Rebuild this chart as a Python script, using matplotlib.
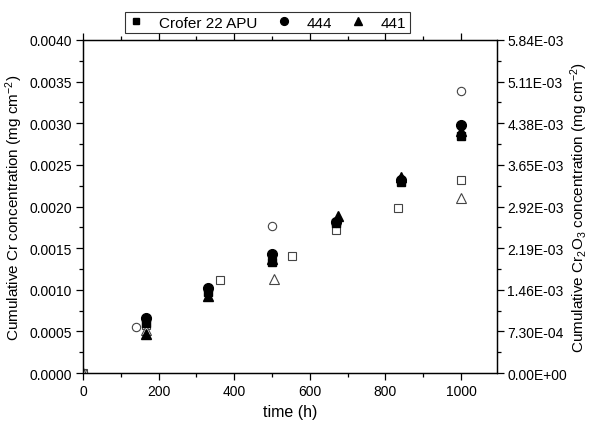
import matplotlib
matplotlib.use("Agg")
import matplotlib.pyplot as plt
from matplotlib.ticker import MultipleLocator, FormatStrFormatter

plt.rcParams['font.family'] = ['Liberation Sans', 'DejaVu Sans']
plt.rcParams['mathtext.fontset'] = 'custom'
plt.rcParams['mathtext.rm'] = 'Liberation Sans'
plt.rcParams['mathtext.it'] = 'Liberation Sans'

# filled markers: measured samples
t_crofer = [168, 330, 500, 670, 840, 1000]
cr_crofer = [0.00060, 0.00097, 0.00133, 0.00180, 0.00229, 0.00285]
t_444 = [168, 330, 500, 670, 840, 1000]
cr_444 = [0.00066, 0.00102, 0.00143, 0.00181, 0.00232, 0.00298]
t_441 = [168, 330, 500, 674, 842, 1000]
cr_441 = [0.00047, 0.00093, 0.00137, 0.00189, 0.00236, 0.00291]

# open markers: reference data
t_open_sq = [0, 168, 362, 552, 668, 834, 1000]
cr_open_sq = [0, 0.00058, 0.00112, 0.00140, 0.00172, 0.00198, 0.00232]
t_open_ci = [0, 140, 500, 1000]
cr_open_ci = [0, 0.00055, 0.00177, 0.00339]
t_open_tr = [0, 168, 505, 1000]
cr_open_tr = [0, 0.00052, 0.00113, 0.00210]

fig = plt.figure(figsize=(5.92, 4.27), dpi=100)
ax = fig.add_axes([0.140, 0.124, 0.6995, 0.780])

ms = 6
ax.plot(t_open_sq, cr_open_sq, 's', ms=ms, mfc='white', mec='#444444', mew=0.8, ls='none')
ax.plot(t_open_ci, cr_open_ci, 'o', ms=ms, mfc='white', mec='#444444', mew=0.8, ls='none')
ax.plot(t_open_tr, cr_open_tr, '^', ms=ms + 1, mfc='white', mec='#444444', mew=0.8, ls='none')
l1, = ax.plot(t_crofer, cr_crofer, 's', ms=ms, color='black', ls='none', label='Crofer 22 APU')
l2, = ax.plot(t_444, cr_444, 'o', ms=ms + 1, color='black', ls='none', label='444')
l3, = ax.plot(t_441, cr_441, '^', ms=ms + 1, color='black', ls='none', label='441')

ax.set_xlim(0, 1095)
ax.set_ylim(0, 0.004)
ax.xaxis.set_major_locator(MultipleLocator(200))
ax.xaxis.set_minor_locator(MultipleLocator(100))
ax.yaxis.set_major_locator(MultipleLocator(0.0005))
ax.yaxis.set_minor_locator(MultipleLocator(0.00025))
ax.yaxis.set_major_formatter(FormatStrFormatter('%.4f'))
ax.tick_params(which='both', direction='out', top=True, labelsize=10)
ax.tick_params(which='major', length=5, width=0.9, pad=3)
ax.tick_params(which='minor', length=3, width=0.9)
ax.set_xlabel('time (h)', fontsize=11.5)
ax.set_ylabel('Cumulative Cr concentration (mg cm$^{-2}$)', fontsize=11, labelpad=3)

ax2 = ax.twinx()
ax2.set_ylim(0, 0.00584)
ax2.yaxis.set_major_locator(MultipleLocator(0.00073))
ax2.yaxis.set_minor_locator(MultipleLocator(0.000365))
ax2.yaxis.set_major_formatter(FormatStrFormatter('%.2E'))
ax2.tick_params(which='both', direction='out', labelsize=10)
ax2.tick_params(which='major', length=5, width=0.9, pad=2.5)
ax2.tick_params(which='minor', length=3, width=0.9)
ax2.set_ylabel('Cumulative Cr$_2$O$_3$ concentration (mg cm$^{-2}$)', fontsize=11, labelpad=1)

for a in (ax, ax2):
    for s in a.spines.values():
        s.set_linewidth(0.9)

leg = fig.legend(handles=[l1, l2, l3], ncol=3, loc='upper left',
                 bbox_to_anchor=(0.198, 0.988), fontsize=11, frameon=True,
                 fancybox=False, edgecolor='black', handlelength=1.0,
                 handletextpad=1.0, columnspacing=1.2, borderpad=0.25,
                 markerscale=0.8)
leg.get_frame().set_linewidth(0.8)

fig.savefig('out.png', dpi=100)
